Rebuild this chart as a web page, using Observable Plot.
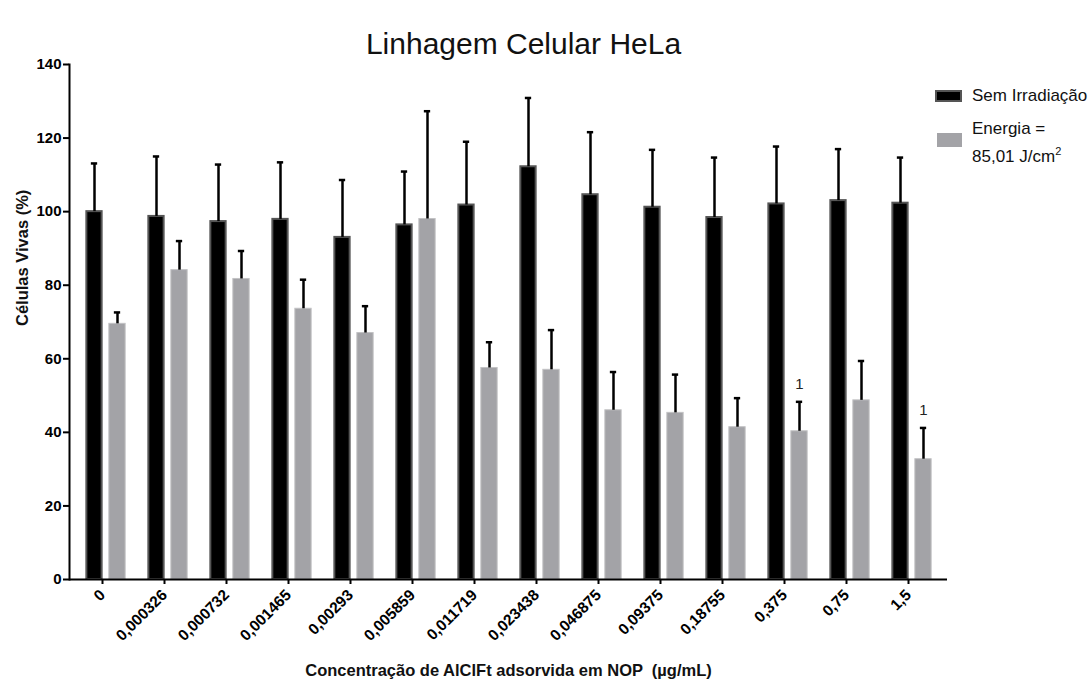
<!DOCTYPE html>
<html><head><meta charset="utf-8">
<script src="https://cdn.jsdelivr.net/npm/d3@7"></script>
<script src="https://cdn.jsdelivr.net/npm/@observablehq/plot@0.6"></script>
<style>
body{margin:0;background:#fff;}
#wrap{position:relative;width:1089px;height:681px;font-family:"Liberation Sans",Arial,sans-serif;}
.lg{position:absolute;font-size:17px;color:#111;line-height:1;white-space:nowrap;}
.sw{position:absolute;box-sizing:border-box;}
</style></head><body>
<div id="wrap"></div>
<script>
const title = "Linhagem Celular HeLa";
const xTitle = "Concentração de AlClFt adsorvida em NOP  (µg/mL)";
const yTitle = "Células Vivas (%)";
const categories = ["0","0,000326","0,000732","0,001465","0,00293","0,005859","0,011719","0,023438","0,046875","0,09375","0,18755","0,375","0,75","1,5"];
const semMean = [100.0, 98.7, 97.3, 97.9, 93.0, 96.4, 101.8, 112.2, 104.6, 101.2, 98.4, 102.1, 103.0, 102.3];
const semSD   = [13.1, 16.3, 15.5, 15.5, 15.6, 14.5, 17.2, 18.7, 17.0, 15.6, 16.3, 15.6, 14.0, 12.4];
const enMean  = [69.5, 84.1, 81.7, 73.6, 67.0, 98.0, 57.5, 57.0, 46.0, 45.3, 41.4, 40.3, 48.7, 32.7];
const enSD    = [3.1, 7.9, 7.6, 7.9, 7.3, 29.3, 7.0, 10.8, 10.4, 10.4, 7.9, 8.0, 10.7, 8.5];
const enSig   = ["","","","","","","","","","","","1","","1"];
const yTicks  = [0, 20, 40, 60, 80, 100, 120, 140];
const seriesNames = ["Sem Irradiação", "Energia =", "85,01 J/cm"];

const sem = categories.map((c, i) => ({cat: c, mean: semMean[i], top: semMean[i] + semSD[i]}));
const en = categories.map((c, i) => ({cat: c, mean: enMean[i], top: enMean[i] + enSD[i], sig: enSig[i]}));

const font = '"Liberation Sans", Arial, sans-serif';
const chart = Plot.plot({
  width: 1089, height: 681,
  marginTop: 64, marginBottom: 102, marginLeft: 69, marginRight: 142,
  style: {fontFamily: font, background: "#fff", color: "#000", overflow: "visible"},
  x: {domain: categories, padding: 0, label: null},
  y: {domain: [0, 140], label: null},
  marks: [
    Plot.barY(sem, {x: "cat", y: "mean", fill: "#000", stroke: "#555", strokeWidth: 2, insetLeft: 12.35, insetRight: 34.35}),
    Plot.barY(en, {x: "cat", y: "mean", fill: "#a3a3a7", stroke: "#c2c2c4", strokeWidth: 1, insetLeft: 34.85, insetRight: 10.85}),
    Plot.ruleX(sem, {x: "cat", y1: "mean", y2: "top", dx: -11, stroke: "#000", strokeWidth: 2.5}),
    Plot.tickY(sem, {x: "cat", y: "top", stroke: "#000", strokeWidth: 2.5, insetLeft: 16.85, insetRight: 38.85}),
    Plot.ruleX(en, {x: "cat", y1: "mean", y2: "top", dx: 12, stroke: "#000", strokeWidth: 2.5}),
    Plot.tickY(en, {x: "cat", y: "top", stroke: "#000", strokeWidth: 2.5, insetLeft: 39.85, insetRight: 15.85}),
    Plot.text(en.filter(d => d.sig), {x: "cat", y: "top", text: "sig", dx: 12, dy: -18, fontSize: 15, fill: "#222"}),
    Plot.axisX({tickRotate: -45, tickSize: 5, tickPadding: 8, dx: -3, fontSize: 15.5, fontWeight: "bold", strokeWidth: 2, label: null}),
    Plot.axisY({ticks: yTicks, tickSize: 6, tickPadding: 2, fontSize: 15, fontWeight: "bold", strokeWidth: 2, label: null}),
    Plot.ruleY([0], {stroke: "#000", strokeWidth: 2}),
    Plot.frame({anchor: "left", stroke: "#000", strokeWidth: 2}),
    Plot.text([title], {frameAnchor: "top", dx: 15, dy: -32, fontSize: 30, fill: "#111"}),
    Plot.text([xTitle], {frameAnchor: "bottom", dy: 96, fontSize: 16.5, fontWeight: "bold", fill: "#111"}),
    Plot.text([yTitle], {frameAnchor: "left", dx: -47, dy: 4, rotate: -90, fontSize: 16.5, fontWeight: "bold", fill: "#111"})
  ]
});
const wrap = document.getElementById("wrap");
wrap.appendChild(chart);

// legend
function add(html, cls, style) {
  const d = document.createElement("div");
  d.className = cls; d.innerHTML = html; Object.assign(d.style, style); wrap.appendChild(d);
}
add("", "sw", {left: "935px", top: "90px", width: "27px", height: "12px", background: "#000", border: "2px solid #555"});
add(seriesNames[0], "lg", {left: "972px", top: "87px"});
add("", "sw", {left: "937px", top: "133px", width: "25px", height: "14px", background: "#a3a3a7"});
add(seriesNames[1], "lg", {left: "972px", top: "120px"});
add(seriesNames[2] + "<sup style='font-size:11px;vertical-align:7px'>2</sup>", "lg", {left: "972px", top: "146px"});
</script>
</body></html>
